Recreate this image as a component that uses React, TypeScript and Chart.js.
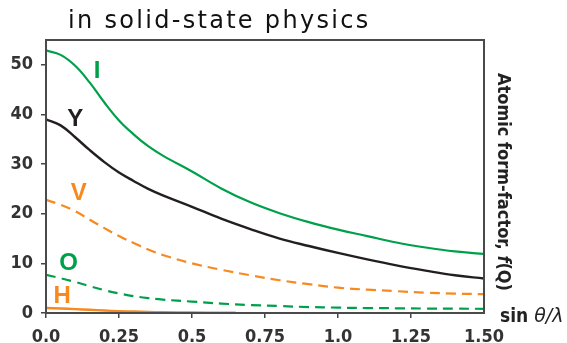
import React, { useEffect, useRef } from "react";
import { Chart, registerables } from "chart.js";

Chart.register(...registerables);

const xGrid = [0, 0.05, 0.1, 0.15, 0.2, 0.25, 0.3, 0.35, 0.4, 0.5, 0.6, 0.7, 0.8, 0.9, 1.0, 1.1, 1.2, 1.3, 1.4, 1.5];
const iodine = [52.9, 52.0, 49.8, 46.4, 42.4, 38.8, 36.0, 33.6, 31.7, 28.5, 25.1, 22.3, 20.1, 18.3, 16.8, 15.5, 14.2, 13.2, 12.4, 11.9];
const yttrium = [39.0, 37.8, 35.4, 32.8, 30.4, 28.3, 26.6, 25.0, 23.7, 21.4, 19.0, 16.9, 15.0, 13.5, 12.1, 10.8, 9.6, 8.55, 7.6, 6.95];
const vanadium = [22.8, 21.8, 20.5, 18.8, 17.1, 15.5, 14.1, 12.8, 11.7, 10.0, 8.7, 7.6, 6.6, 5.8, 5.1, 4.7, 4.4, 4.1, 3.9, 3.8];
const oxygen = [7.7, 7.0, 6.25, 5.4, 4.6, 3.95, 3.4, 3.0, 2.7, 2.3, 1.9, 1.6, 1.4, 1.2, 1.08, 1.0, 0.95, 0.9, 0.87, 0.85];
const hX = [0, 0.05, 0.1, 0.15, 0.2, 0.25, 0.3, 0.35, 0.4, 0.5, 0.6, 0.65];
const hydrogen = [1.0, 0.9, 0.78, 0.65, 0.5, 0.38, 0.29, 0.22, 0.16, 0.1, 0.06, 0.05];

const xTickValues = [0, 0.25, 0.5, 0.75, 1.0, 1.25, 1.5];
const xTickLabels = ["0.0", "0.25", "0.5", "0.75", "1.0", "1.25", "1.50"];

const labelNames = ["I", "Y", "V", "O", "H"];
const labelX = [0.175, 0.1, 0.112, 0.077, 0.055];
const labelY = [48.7, 39.1, 24.1, 10.0, 3.3];

const GREEN = "#00a04b";
const ORANGE = "#f7891f";
const BLACK = "#231f20";
const labelColors = [GREEN, BLACK, ORANGE, GREEN, ORANGE];

const TICK_FONT = '"DejaVu Sans Condensed", "DejaVu Sans", sans-serif';

const pts = (xs: number[], ys: number[]) => xs.map((x, i) => ({ x, y: ys[i] }));

const decorPlugin = {
  id: "decor",
  afterDatasetsDraw(chart: any) {
    const { ctx, chartArea, scales } = chart;
    ctx.save();
    // frame
    ctx.strokeStyle = "#4a4a4a";
    ctx.lineWidth = 2;
    ctx.strokeRect(chartArea.left, chartArea.top, chartArea.right - chartArea.left, chartArea.bottom - chartArea.top);
    // series labels
    ctx.font = 'bold 24px "Liberation Sans", Arial, sans-serif';
    ctx.textAlign = "center";
    ctx.textBaseline = "middle";
    labelNames.forEach((n, i) => {
      ctx.fillStyle = labelColors[i];
      ctx.fillText(n, scales.x.getPixelForValue(labelX[i]), scales.y.getPixelForValue(labelY[i]));
    });
    // title
    ctx.fillStyle = "#111";
    ctx.textAlign = "left";
    ctx.textBaseline = "alphabetic";
    ctx.font = '24px "DejaVu Sans", sans-serif';
    (ctx as any).letterSpacing = "2.3px";
    ctx.fillText("in solid-state physics", 68, 28);
    (ctx as any).letterSpacing = "0px";
    // right axis title
    ctx.save();
    ctx.translate(503, 182);
    ctx.rotate(Math.PI / 2);
    ctx.fillStyle = "#222";
    ctx.textBaseline = "middle";
    const partA = "Atomic form-factor, ";
    const partB = "f";
    const partC = "(Q)";
    const fA = `bold 18px ${TICK_FONT}`;
    const fB = `italic bold 18px ${TICK_FONT}`;
    ctx.font = fA;
    const wA = ctx.measureText(partA).width;
    ctx.font = fB;
    const wB = ctx.measureText(partB).width;
    ctx.font = fA;
    const wC = ctx.measureText(partC).width;
    let x0 = -(wA + wB + wC) / 2;
    ctx.font = fA;
    ctx.fillText(partA, x0, 0);
    x0 += wA;
    ctx.font = fB;
    ctx.fillText(partB, x0, 0);
    x0 += wB;
    ctx.font = fA;
    ctx.fillText(partC, x0, 0);
    ctx.restore();
    // x axis title
    ctx.fillStyle = "#222";
    ctx.textBaseline = "alphabetic";
    ctx.textAlign = "left";
    ctx.font = `bold 19px ${TICK_FONT}`;
    ctx.fillText("sin ", 500, 322);
    const ws = ctx.measureText("sin ").width;
    ctx.font = 'italic 19px "DejaVu Sans", sans-serif';
    ctx.fillText("θ/λ", 500 + ws, 322);
    ctx.restore();
  },
};

export default function App() {
  const ref = useRef<HTMLCanvasElement | null>(null);
  useEffect(() => {
    document.body.style.margin = "0";
    const canvas = ref.current;
    if (!canvas) return;
    const chart = new Chart(canvas, {
      type: "line",
      data: {
        datasets: [
          { label: "I", data: pts(xGrid, iodine), borderColor: GREEN, borderWidth: 2.2 },
          { label: "Y", data: pts(xGrid, yttrium), borderColor: BLACK, borderWidth: 2.4 },
          { label: "V", data: pts(xGrid, vanadium), borderColor: ORANGE, borderWidth: 2.2, borderDash: [10, 6] },
          { label: "O", data: pts(xGrid, oxygen), borderColor: GREEN, borderWidth: 2.2, borderDash: [10, 6] },
          { label: "H", data: pts(hX, hydrogen), borderColor: ORANGE, borderWidth: 2.4 },
        ].map((d) => ({ ...d, pointRadius: 0, fill: false, tension: 0.4 })),
      },
      options: {
        responsive: false,
        animation: false,
        layout: { padding: { top: 40, right: 83, left: 0, bottom: 0 } },
        plugins: { legend: { display: false }, tooltip: { enabled: false }, title: { display: false } },
        scales: {
          x: {
            type: "linear",
            min: 0,
            max: 1.5,
            afterFit: (s: any) => { s.height = 30; },
            afterBuildTicks: (s: any) => { s.ticks = xTickValues.map((v) => ({ value: v })); },
            border: { display: false },
            grid: {
              drawOnChartArea: false,
              drawTicks: true,
              tickLength: 5,
              lineWidth: 1.5,
              color: (c: any) => (c.index === xTickValues.length - 1 ? "rgba(0,0,0,0)" : "#444"),
            },
            ticks: {
              padding: 9,
              maxRotation: 0,
              color: "#333",
              font: { family: TICK_FONT, size: 18, weight: "bold" },
              callback: (v: any) => {
                const i = xTickValues.findIndex((t) => Math.abs(t - Number(v)) < 1e-6);
                return i >= 0 ? xTickLabels[i] : "";
              },
            },
          },
          y: {
            min: 0,
            max: 55,
            afterFit: (s: any) => { s.width = 46; },
            border: { display: false },
            grid: { drawOnChartArea: false, drawTicks: true, tickLength: 5, lineWidth: 1.5, color: "#444" },
            ticks: {
              stepSize: 10,
              includeBounds: false,
              padding: 8,
              color: "#333",
              font: { family: TICK_FONT, size: 18, weight: "bold" },
            },
          },
        },
      },
      plugins: [decorPlugin],
    } as any);
    return () => chart.destroy();
  }, []);
  return (
    <div style={{ width: 567, height: 343 }}>
      <canvas ref={ref} width={567} height={343} />
    </div>
  );
}
